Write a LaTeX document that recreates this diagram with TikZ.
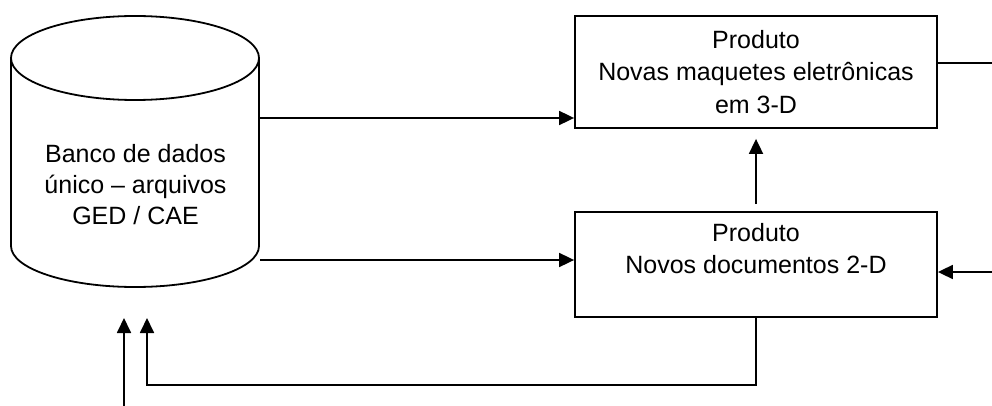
\documentclass[tikz,border=0pt]{standalone}
\usepackage{fontspec}
\setmainfont{Liberation Sans}
\usetikzlibrary{arrows.meta,calc}
\tikzset{
  ln/.style={line width=1.8pt},
  arr/.style={ln,-{Triangle[length=15pt,width=14pt]}},
  boxnode/.style={draw,ln,minimum width=362pt,inner sep=0pt,align=center,
    font=\fontsize{25}{32.5}\selectfont},
  txt/.style={inner sep=0pt,align=center,font=\fontsize{25}{31}\selectfont}
}
\begin{document}
\begin{tikzpicture}[x=1pt,y=-1pt]
\useasboundingbox (0,0) rectangle (992,406);
% database cylinder
\draw[ln,fill=white] (11,58) -- (11,246) arc[start angle=180,end angle=0,x radius=124,y radius=41] -- (259,58);
\draw[ln] (135,58) ellipse[x radius=124,y radius=42];
\node[txt] (db) at (135.5,185) {Banco de dados\\único -- arquivos\\GED / CAE};
% boxes
\node[boxnode,minimum height=112pt] (b1) at (756,72) {Produto\\Novas maquetes eletrônicas\\em 3-D};
\node[boxnode,minimum height=105pt] (b2) at (756,264.5) {Produto\\Novos documentos 2-D\\\mbox{}};
% connectors from database
\coordinate (c1) at (260,118);
\coordinate (c2) at (260,260);
\draw[arr] (c1) -- (c1 -| b1.west);
\draw[arr] (c2) -- (c2 -| b2.west);
% between boxes
\draw[arr,shorten <=7pt,shorten >=10pt] (b2.north) -- (b1.south);
% right side
\coordinate (r1) at (992,63);
\coordinate (r2) at (992,272);
\draw[ln] (r1 -| b1.east) -- (r1);
\draw[arr] (r2) -- (r2 -| b2.east);
% feedback loop
\coordinate (in1) at (124,318);
\coordinate (in2) at (147,318);
\coordinate (src) at (124,406);
\draw[arr] (b2.south) |- (147,385) -- (in2);
\draw[arr] (src) -- (in1);
\end{tikzpicture}
\end{document}
